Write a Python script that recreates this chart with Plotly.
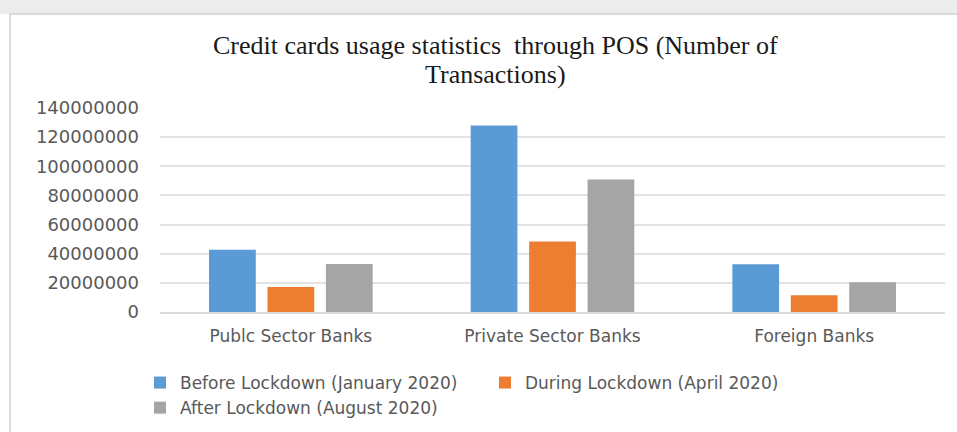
import plotly.graph_objects as go

categories = ["Publc Sector Banks", "Private Sector Banks", "Foreign Banks"]
series_names = [
    "Before Lockdown (January 2020)",
    "During Lockdown (April 2020)",
    "After Lockdown (August 2020)",
]
before_vals = [42800000, 128000000, 32700000]
during_vals = [17200000, 48300000, 11500000]
after_vals = [33000000, 90900000, 20400000]
y_ticks = [0, 20000000, 40000000, 60000000, 80000000, 100000000, 120000000, 140000000]
title_lines = ["Credit cards usage statistics  through POS (Number of", "Transactions)"]

colors = ["#5b9bd5", "#ed7d31", "#a5a5a5"]

W, H = 957, 432
ML, MR, MT, MB = 160, 12, 108, 120
PW, PH = W - ML - MR, H - MT - MB


def px2paper_x(x):
    return (x - ML) / PW


def px2paper_y(y):
    return (H - MB - y) / PH


fig = go.Figure()
for name, vals, c in zip(series_names, [before_vals, during_vals, after_vals], colors):
    fig.add_trace(go.Bar(name=name, x=categories, y=vals, marker=dict(color=c, line=dict(width=0))))

annotations = []
for line, ypx in zip(title_lines, [45, 75]):
    annotations.append(dict(
        text=line, xref="paper", yref="paper",
        x=px2paper_x(495), y=px2paper_y(ypx), xanchor="center", yanchor="middle",
        showarrow=False,
        font=dict(family="Liberation Serif", size=26, color="#1a1a1a"),
    ))

fig.update_layout(
    width=W,
    height=H,
    margin=dict(l=ML, r=MR, t=MT, b=MB, autoexpand=False),
    paper_bgcolor="white",
    plot_bgcolor="white",
    barmode="group",
    bargap=0.33,
    bargroupgap=0.2,
    font=dict(family="DejaVu Sans", size=17, color="#595959"),
    showlegend=True,
    legend=dict(
        orientation="h",
        x=px2paper_x(140),
        xanchor="left",
        y=px2paper_y(365),
        yanchor="top",
        font=dict(family="DejaVu Sans", size=17, color="#595959"),
        traceorder="normal",
        itemwidth=30,
        entrywidth=300,
        tracegroupgap=0,
    ),
    annotations=annotations,
    xaxis=dict(
        showgrid=False,
        showline=True,
        linecolor="#d9d9d9",
        linewidth=1.5,
        ticks="",
        tickfont=dict(family="DejaVu Sans", size=17, color="#595959"),
        ticklabelstandoff=8,
    ),
    yaxis=dict(
        range=[0, 140000000],
        tickvals=y_ticks,
        ticktext=[str(v) for v in y_ticks],
        showgrid=True,
        gridcolor="#e3e3e3",
        gridwidth=1.5,
        zeroline=False,
        showline=False,
        ticks="",
        tickfont=dict(family="DejaVu Sans", size=18, color="#595959"),
        ticklabelstandoff=20,
    ),
    shapes=[
        dict(type="rect", xref="paper", yref="paper",
             x0=px2paper_x(0), x1=px2paper_x(W), y0=px2paper_y(14), y1=px2paper_y(0),
             fillcolor="#ececec", line=dict(width=0), layer="below"),
        dict(type="rect", xref="paper", yref="paper",
             x0=px2paper_x(10), x1=px2paper_x(W + 5), y0=px2paper_y(H + 5), y1=px2paper_y(14),
             fillcolor="rgba(0,0,0,0)", line=dict(color="#d0d0d0", width=1.5), layer="below"),
    ],
)

fig.write_html("out.html")
